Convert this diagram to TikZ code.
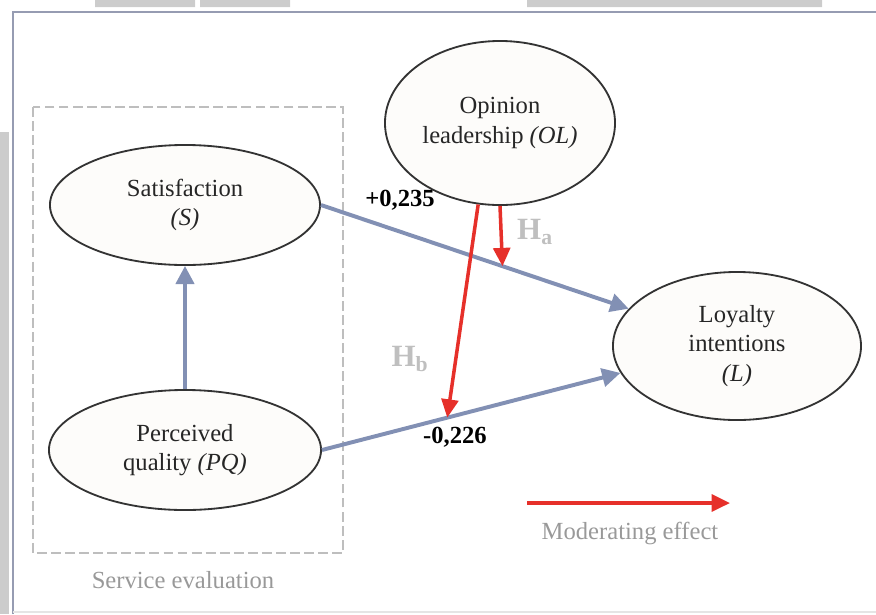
\documentclass[tikz,border=0pt]{standalone}
\usepackage{fontspec}
\setmainfont{Liberation Serif}
\usetikzlibrary{arrows.meta,shapes.geometric}
\definecolor{pathblue}{RGB}{130,144,180}
\definecolor{modred}{RGB}{230,48,42}
\definecolor{framegray}{RGB}{150,156,178}
\definecolor{dashgray}{RGB}{190,190,190}
\definecolor{offwhite}{RGB}{253,252,250}

\begin{document}
\begin{tikzpicture}[x=0.025cm,y=-0.025cm,
 construct/.style={ellipse,draw=black!80,line width=1.3pt,fill=offwhite,inner sep=0pt,align=center,
   font=\fontsize{17.5}{21}\selectfont,text=black!85},
 effect/.style={-{Triangle[length=13pt,width=13pt]},pathblue,line width=2.8pt},
 moderator/.style={-{Triangle[length=13pt,width=12pt]},modred,line width=2.5pt},
 coef/.style={font=\fontsize{17.5}{21}\selectfont\bfseries},
 hyp/.style={font=\fontsize{22}{24}\selectfont\bfseries,text=black!25},
 caption/.style={font=\fontsize{17.5}{21}\selectfont,text=black!40}]
\useasboundingbox (0,0) rectangle (876,614);
% page frame
\fill[black!20] (0,132) rectangle (9,614);
\fill[black!20] (95,0) rectangle (195,7) (200,0) rectangle (290,7) (527,0) rectangle (822,7);
\draw[framegray,line width=1.4pt] (13,614)--(13,12)--(876,12);
\draw[black!10,line width=0.8pt] (13,612)--(876,612);
% service evaluation block
\draw[dashgray,line width=1.5pt,dash pattern=on 7pt off 3pt] (33,107) rectangle (343,553);
\node[caption] (SE) at (183,580) {Service evaluation};
% constructs
\node[construct,minimum width=6.75cm,minimum height=3cm] (S) at (185,205) {Satisfaction\\\textit{(S)}};
\node[construct,minimum width=6.8cm,minimum height=3cm] (PQ) at (185,450) {Perceived\\quality \textit{(PQ)}};
\node[construct,minimum width=5.75cm,minimum height=4.1cm] (OL) at (500,123) {Opinion\\leadership \textit{(OL)}};
\node[construct,minimum width=6.2cm,minimum height=3.7cm] (L) at (737,346) {Loyalty\\intentions\\\textit{(L)}};
% direct effects
\draw[effect] (PQ) -- (S);
\draw[effect] (S.east) -- (L.161) coordinate[pos=0.59] (ha);
\draw[effect] (PQ.east) -- (L.193) coordinate[pos=0.42] (hb);
\node[coef] (c1) at (400,200) {+0,235};
\node[coef] (c2) at (455,437) {-0,226};
% moderating effects
\draw[moderator] (OL.south) -- (ha);
\draw[moderator] (OL.255) -- (hb);
\node[hyp] (Ha) at (535,232) {H\textsubscript{a}};
\node[hyp] (Hb) at (410,359) {H\textsubscript{b}};
% legend
\coordinate (leg1) at (527,503);
\coordinate (leg2) at (730,503);
\draw[moderator] (leg1) -- (leg2);
\node[caption] (ME) at (630,533) {Moderating effect};
\end{tikzpicture}
\end{document}
